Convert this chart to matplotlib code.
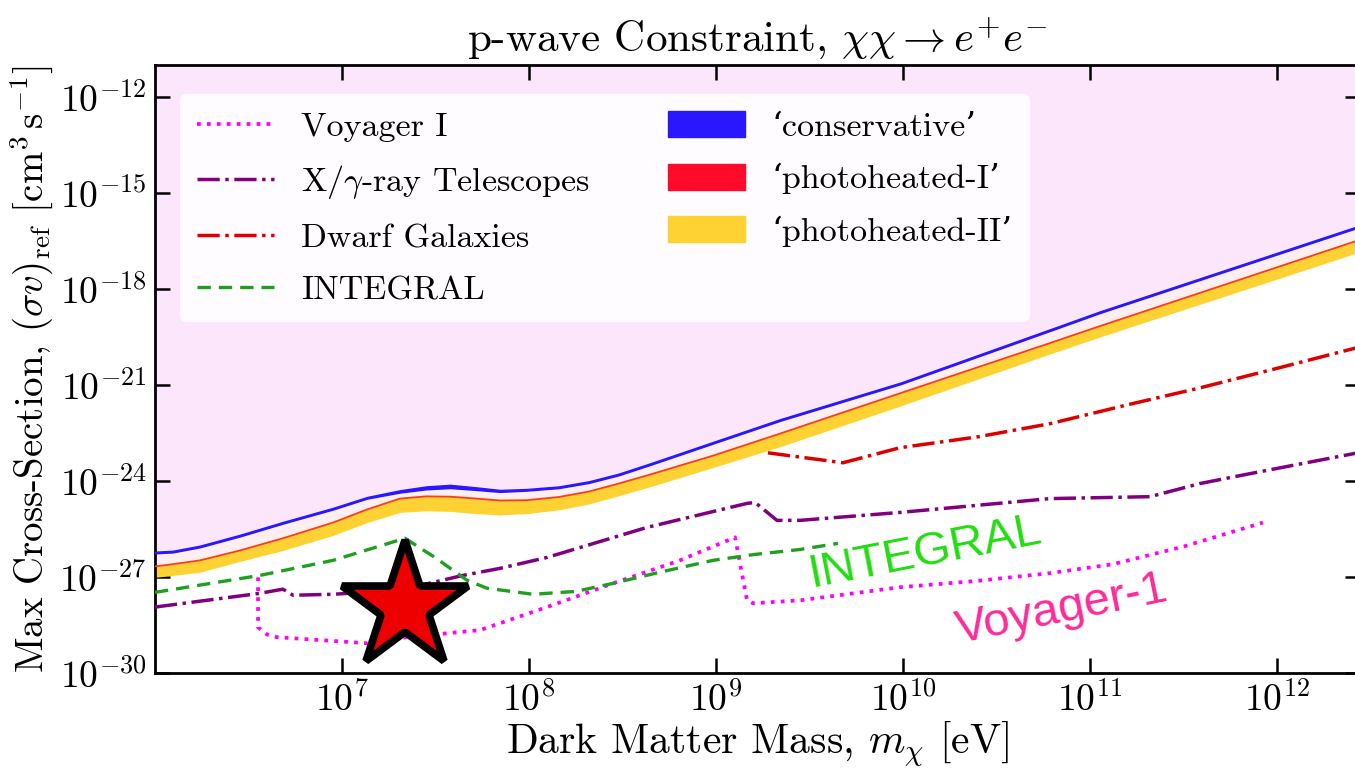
import numpy as np
import matplotlib
matplotlib.use('Agg')
import matplotlib.pyplot as plt
from matplotlib.patches import Patch
from matplotlib.ticker import FixedLocator, FuncFormatter, NullLocator

plt.rcParams['font.family'] = ['cmr10', 'DejaVu Serif']
plt.rcParams['mathtext.fontset'] = 'cm'
plt.rcParams['axes.unicode_minus'] = False
plt.rcParams['axes.formatter.use_mathtext'] = True

# --- bounds from the three heating prescriptions (log10 values) ---
bound_logm = [6.000, 6.096, 6.241, 6.455, 6.684, 6.952, 7.134, 7.310, 7.450, 7.578, 7.720,
              7.845, 7.989, 8.160, 8.320, 8.480, 8.647, 8.989, 9.342, 9.989, 10.786, 11.053, 12.45]
cons_lo = [-26.26, -26.23, -26.07, -25.73, -25.33, -24.89, -24.55, -24.36, -24.26, -24.22, -24.28,
           -24.34, -24.30, -24.22, -24.06, -23.82, -23.50, -22.82, -22.12, -20.97, -19.31, -18.75, -16.05]
cons_hi = [-26.21, -26.18, -26.02, -25.68, -25.28, -24.84, -24.50, -24.29, -24.17, -24.12, -24.20,
           -24.28, -24.25, -24.17, -24.01, -23.77, -23.45, -22.77, -22.07, -20.92, -19.26, -18.70, -16.00]
photo1 = [-26.67, -26.60, -26.48, -26.17, -25.79, -25.30, -24.89, -24.55, -24.48, -24.49, -24.55,
          -24.61, -24.60, -24.50, -24.33, -24.08, -23.80, -23.20, -22.52, -21.25, -19.69, -19.16, -16.45]
photo2_lo = [-27.01, -26.95, -26.85, -26.51, -26.17, -25.70, -25.30, -24.98, -24.93, -24.95, -25.02,
             -25.06, -25.02, -24.90, -24.72, -24.46, -24.18, -23.57, -22.93, -21.65, -20.03, -19.50, -16.83]

# --- existing constraints ---
voy_logm = [6.551, 6.551, 6.600, 6.652, 7.134, 7.348, 7.738, 8.096, 8.449, 8.807, 9.102,
            9.166, 9.198, 9.449, 9.984, 10.400, 10.786, 11.123, 11.500, 11.925]
voy_logs = [-27.01, -28.57, -28.80, -28.88, -29.07, -28.88, -28.66, -27.94, -27.20, -26.48, -25.76,
            -27.73, -27.82, -27.73, -27.32, -27.12, -26.88, -26.60, -26.05, -25.30]

xray_logm = [6.000, 6.561, 6.684, 6.738, 6.952, 7.310, 7.647, 7.845, 8.096, 8.631,
             9.166, 9.209, 9.326, 9.449, 9.989, 10.786, 11.321, 11.588, 11.856, 12.45]
xray_logs = [-27.94, -27.51, -27.38, -27.57, -27.54, -27.41, -26.95, -26.73, -26.39, -25.45,
             -24.70, -24.67, -25.23, -25.23, -24.98, -24.55, -24.49, -24.08, -23.77, -23.10]

dwarf_logm = [9.278, 9.679, 9.984, 10.400, 10.786, 11.200, 11.588, 12.000, 12.45]
dwarf_logs = [-23.12, -23.43, -22.96, -22.62, -22.21, -21.62, -21.09, -20.48, -19.80]

integ_logm = [6.000, 6.561, 6.952, 7.337, 7.500, 7.668, 7.775, 8.021, 8.250, 8.449, 8.700, 8.984,
              9.200, 9.449, 9.652]
integ_logs = [-27.48, -26.95, -26.48, -25.79, -26.40, -27.10, -27.35, -27.54, -27.45, -27.20,
              -26.85, -26.48, -26.30, -26.14, -25.95]

star_mass = [2.17e7]
star_sigma = [1.17e-28]

m = 10 ** np.array(bound_logm)

fig = plt.figure(figsize=(13.55, 7.7), dpi=100)
ax = fig.add_axes([155 / 1355, 97 / 770, 1205 / 1355, 608 / 770])
ax.set_xscale('log')
ax.set_yscale('log')
ax.set_xlim(1e6, 10 ** 12.444)
ax.set_ylim(1e-30, 1e-11)

# excluded region and bands
ax.fill_between(m, 10 ** np.array(cons_hi), 1e-11, color='#fce6fc', lw=0, zorder=1)
ax.fill_between(m, 10 ** np.array(photo1), 10 ** np.array(cons_lo), color='#fdeef0', lw=0, zorder=1)
ax.fill_between(m, 10 ** np.array(photo2_lo), 10 ** np.array(photo1), color='#ffd233', lw=0, zorder=2)
ax.plot(m, 10 ** np.array(photo1), color='#ff3a1a', lw=1.3, zorder=3)
ax.fill_between(m, 10 ** np.array(cons_lo), 10 ** np.array(cons_hi), color='#2a16ff', lw=1.0,
                edgecolor='#2a16ff', zorder=3)

ax.plot(10 ** np.array(voy_logm), 10 ** np.array(voy_logs), ':', color='#ff00ff', lw=2.7,
        label='Voyager I', zorder=4)
ax.plot(10 ** np.array(xray_logm), 10 ** np.array(xray_logs), '-.', color='#800080', lw=2.5,
        label=r'X/$\gamma$-ray Telescopes', zorder=4)
ax.plot(10 ** np.array(dwarf_logm), 10 ** np.array(dwarf_logs), '-.', color='#dd0000', lw=2.5,
        label='Dwarf Galaxies', zorder=4)
ax.plot(10 ** np.array(integ_logm), 10 ** np.array(integ_logs), '--', color='#1f9e1f', lw=2.4,
        dashes=(4, 2.4), label='INTEGRAL', zorder=4)

ax.plot(star_mass, star_sigma, marker='*', ms=96, mfc='#ee0000', mec='black', mew=5.5,
        ls='none', zorder=6)

ax.text(10 ** 10.12, 10 ** -26.23, 'INTEGRAL', color='#22dd11', fontsize=34,
        family=['Liberation Sans'], rotation=11, ha='center', va='center',
        rotation_mode='anchor', zorder=7)
ax.text(10 ** 10.85, 10 ** -28.03, 'Voyager-1', color='#ff2a9a', fontsize=34,
        family=['Liberation Sans'], rotation=11.5, ha='center', va='center',
        rotation_mode='anchor', zorder=7)

# axes styling
ax.xaxis.set_major_locator(FixedLocator([1e7, 1e8, 1e9, 1e10, 1e11, 1e12]))
ax.yaxis.set_major_locator(FixedLocator([1e-30, 1e-27, 1e-24, 1e-21, 1e-18, 1e-15, 1e-12]))
ax.xaxis.set_minor_locator(NullLocator())
ax.yaxis.set_minor_locator(NullLocator())
fmt = FuncFormatter(lambda v, p: r'$10^{%d}$' % round(np.log10(v)))
ax.xaxis.set_major_formatter(fmt)
ax.yaxis.set_major_formatter(fmt)
ax.tick_params(which='major', direction='in', length=11, width=1.8, labelsize=27,
               top=True, right=True, pad=6)
for s in ax.spines.values():
    s.set_linewidth(2)

ax.set_title(r'p-wave Constraint, $\chi\chi \rightarrow e^{+}e^{-}$', fontsize=31, pad=10)
ax.set_xlabel(r'Dark Matter Mass, $m_\chi$ [eV]', fontsize=30, labelpad=1)
ax.set_ylabel(r'Max Cross-Section, $(\sigma v)_{\rm ref}$ $[{\rm cm}^3\,{\rm s}^{-1}]$',
              fontsize=28, labelpad=3)

handles, labels = ax.get_legend_handles_labels()
handles += [Patch(facecolor='#2a16ff', edgecolor='#2a16ff'),
            Patch(facecolor='#ff0a2a', edgecolor='#ff0a2a'),
            Patch(facecolor='#ffd233', edgecolor='#ffd233')]
labels += ['\u2018conservative\u2019', '\u2018photoheated-I\u2019', '\u2018photoheated-II\u2019']
leg = ax.legend(handles, labels, ncol=2, loc='upper left', bbox_to_anchor=(0.0208, 0.952),
                borderaxespad=0, fontsize=24.5, handlelength=2.25, handleheight=0.8,
                columnspacing=2.3, labelspacing=0.62, borderpad=0.5, fancybox=True,
                framealpha=0.92, edgecolor='none')
leg.set_zorder(10)

fig.savefig('out.png', dpi=100)
